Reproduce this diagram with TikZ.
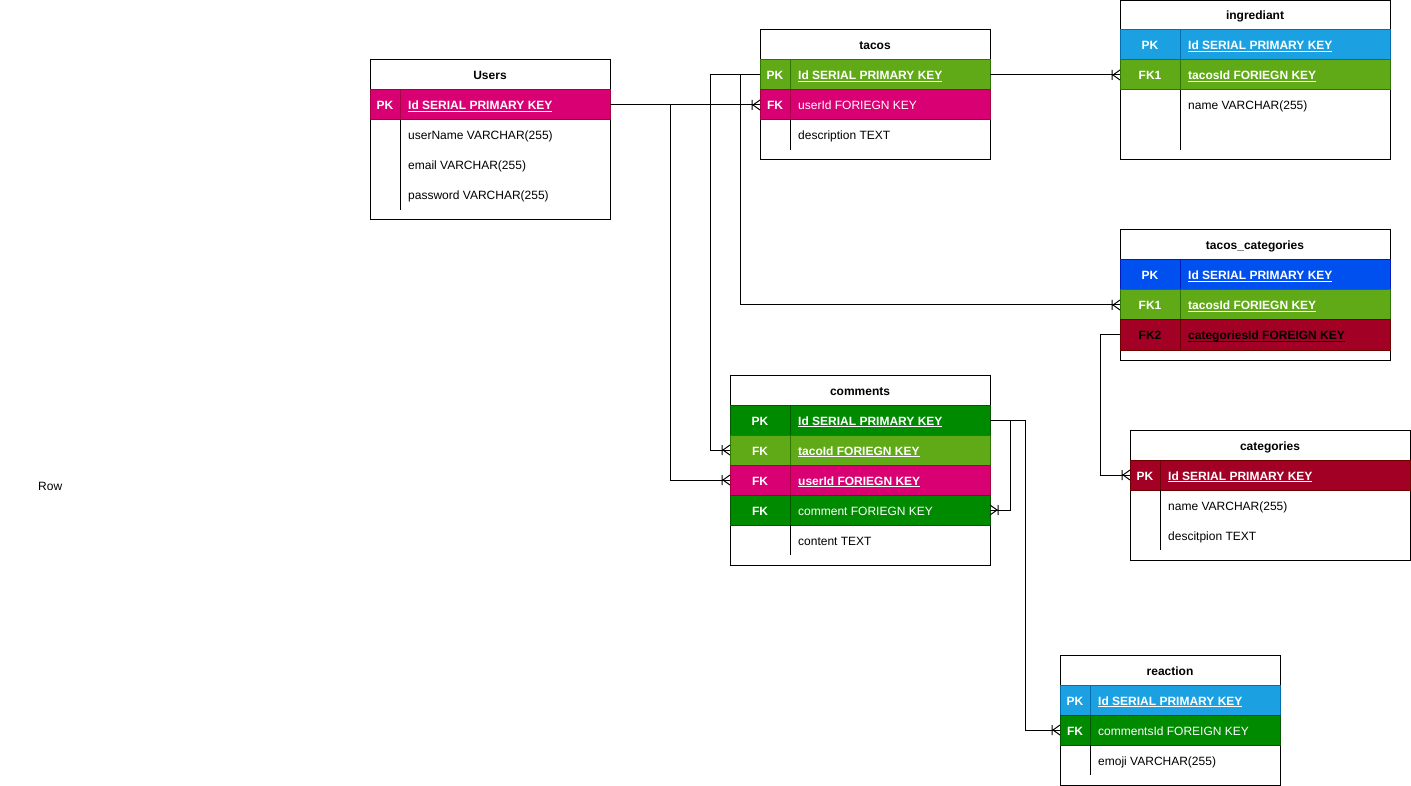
\documentclass[tikz,border=0pt]{standalone}
\usepackage{fontspec}
\setmainfont{Liberation Sans}

\definecolor{erpink}{HTML}{D80073}
\definecolor{erpinkdk}{HTML}{A50040}
\definecolor{ergreen}{HTML}{60A917}
\definecolor{ergreendk}{HTML}{2D7600}
\definecolor{erdkgreen}{HTML}{008A00}
\definecolor{erdkgreendk}{HTML}{005700}
\definecolor{ersky}{HTML}{1BA1E2}
\definecolor{erskydk}{HTML}{006EAF}
\definecolor{erblue}{HTML}{0050EF}
\definecolor{erbluedk}{HTML}{001DBC}
\definecolor{ercrimson}{HTML}{A20025}
\definecolor{ercrimsondk}{HTML}{6F0000}

\tikzset{
  frame/.style={draw=black,line width=1},
  link/.style={draw=black,line width=1},
  rowbox/.style={anchor=north west,minimum height=30,inner sep=0,outer sep=0,line width=1},
  titletxt/.style={anchor=base,inner sep=0,font=\bfseries\fontsize{12}{14}\selectfont},
  keytxt/.style={anchor=base,inner sep=0,text=white,font=\bfseries\fontsize{12}{14}\selectfont},
  fieldtxt/.style={anchor=base west,inner sep=0,text=white,font=\fontsize{12}{14}\selectfont},
  crow/.pic={\draw[line width=1] (-8,-5) -- (-8,5) (-7,0) -- (0,-5) (-7,0) -- (0,5);}
}

% bold underlined field name
\newcommand{\keyul}[1]{\setbox0\hbox{\bfseries #1}\rlap{\rule[-2.2pt]{\wd0}{1pt}}\box0}

% coloured row: name, x, y, width, key width, colour, key, field
\newcommand{\erow}[8]{%
  \node[rowbox,fill=#6,draw=#6dk,minimum width=#4] (#1) at (#2,#3) {};
  \draw[line width=1,#6dk] (#2+#5,#3) -- (#2+#5,#3+30);
  \node[keytxt] (#1-k) at (#2+#5/2,#3+20) {#7};
  \node[fieldtxt] (#1-f) at (#2+#5+8,#3+20) {#8};
}
% plain row: name, x, y, width, key width, field
\newcommand{\eplain}[6]{%
  \node[rowbox,minimum width=#4] (#1) at (#2,#3) {};
  \draw[line width=1] (#2+#5,#3) -- (#2+#5,#3+30);
  \node[fieldtxt,text=black] (#1-f) at (#2+#5+8,#3+20) {#6};
}

\begin{document}
\begin{tikzpicture}[x=1pt,y=-1pt]
\useasboundingbox (0,0) rectangle (1411,786);

%Users
\draw[frame] (370,60) rectangle (610,220);
\node[titletxt] (users) at (490,80) {Users};
\erow{users-pk}{370}{90}{240}{30}{erpink}{PK}{\keyul{Id SERIAL PRIMARY KEY}}
\eplain{users-name}{370}{120}{240}{30}{userName VARCHAR(255)}
\eplain{users-mail}{370}{150}{240}{30}{email VARCHAR(255)}
\eplain{users-pw}{370}{180}{240}{30}{password VARCHAR(255)}

%tacos
\draw[frame] (760,30) rectangle (990,160);
\node[titletxt] (tacos) at (875,50) {tacos};
\erow{tacos-pk}{760}{60}{230}{30}{ergreen}{PK}{\keyul{Id SERIAL PRIMARY KEY}}
\erow{tacos-fk}{760}{90}{230}{30}{erpink}{FK}{userId FORIEGN KEY}
\eplain{tacos-desc}{760}{120}{230}{30}{description TEXT}

%ingrediant
\draw[frame] (1120,1) rectangle (1390,160);
\node[titletxt] (ing) at (1255,20) {ingrediant};
\erow{ing-pk}{1120}{30}{270}{60}{ersky}{PK}{\keyul{Id SERIAL PRIMARY KEY}}
\erow{ing-fk}{1120}{60}{270}{60}{ergreen}{FK1}{\keyul{tacosId FORIEGN KEY}}
\eplain{ing-name}{1120}{90}{270}{60}{name VARCHAR(255)}
\eplain{ing-none}{1120}{120}{270}{60}{}

%tacos_categories
\draw[frame] (1120,230) rectangle (1390,360);
\node[titletxt] (tc) at (1255,250) {tacos\_categories};
\erow{tc-pk}{1120}{260}{270}{60}{erblue}{PK}{\keyul{Id SERIAL PRIMARY KEY}}
\erow{tc-fk1}{1120}{290}{270}{60}{ergreen}{FK1}{\keyul{tacosId FORIEGN KEY}}
\erow{tc-fk2}{1120}{320}{270}{60}{ercrimson}{\textcolor{black}{FK2}}{\textcolor{black}{\keyul{categoriesId FOREIGN KEY}}}

%comments
\draw[frame] (730,375) rectangle (990,565);
\node[titletxt] (cmt) at (860,395) {comments};
\erow{cmt-pk}{730}{405}{260}{60}{erdkgreen}{PK}{\keyul{Id SERIAL PRIMARY KEY}}
\erow{cmt-taco}{730}{435}{260}{60}{ergreen}{FK}{\keyul{tacoId FORIEGN KEY}}
\erow{cmt-user}{730}{465}{260}{60}{erpink}{FK}{\keyul{userId FORIEGN KEY}}
\erow{cmt-cmt}{730}{495}{260}{60}{erdkgreen}{FK}{comment FORIEGN KEY}
\eplain{cmt-text}{730}{525}{260}{60}{content TEXT}

%categories
\draw[frame] (1130,430) rectangle (1410,560);
\node[titletxt] (cat) at (1270,450) {categories};
\erow{cat-pk}{1130}{460}{280}{30}{ercrimson}{PK}{\keyul{Id SERIAL PRIMARY KEY}}
\eplain{cat-name}{1130}{490}{280}{30}{name VARCHAR(255)}
\eplain{cat-desc}{1130}{520}{280}{30}{descitpion TEXT}

%reaction
\draw[frame] (1060,655) rectangle (1280,785);
\node[titletxt] (rx) at (1170,675) {reaction};
\erow{rx-pk}{1060}{685}{220}{30}{ersky}{PK}{\keyul{Id SERIAL PRIMARY KEY}}
\erow{rx-fk}{1060}{715}{220}{30}{erdkgreen}{FK}{commentsId FOREIGN KEY}
\eplain{rx-emoji}{1060}{745}{220}{30}{emoji VARCHAR(255)}

\node[fieldtxt,text=black] (row) at (38,490) {Row};

%relations
\draw[link] (users-pk.east) -- (tacos-fk.west) pic{crow};
\draw[link] (users-pk.east) -- ++(60,0) |- (cmt-user.west) pic{crow};
\draw[link] (tacos-pk.west) -- ++(-50,0) |- (cmt-taco.west) pic{crow};
\draw[link] (tacos-pk.west) -- ++(-20,0) |- (tc-fk1.west) pic{crow};
\draw[link] (tacos-pk.east) -- (ing-fk.west) pic{crow};
\draw[link] (tc-fk2.west) -- ++(-20,0) |- (cat-pk.west) pic{crow};
\draw[link] (cmt-pk.east) -- ++(35,0) |- (rx-fk.west) pic{crow};
\draw[link] (cmt-pk.east) -- ++(20,0) |- (cmt-cmt.east) pic[xscale=-1]{crow};
\end{tikzpicture}
\end{document}
